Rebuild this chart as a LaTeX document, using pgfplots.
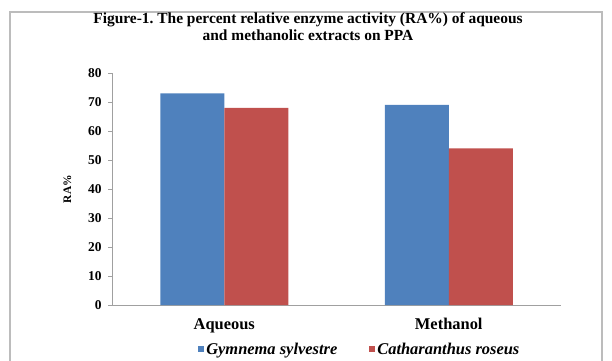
\documentclass[border=0pt]{standalone}
\usepackage{pgfplots}
\pgfplotsset{compat=1.18}
\usepackage{fontspec}
\setmainfont{Liberation Serif}
\definecolor{exblue}{HTML}{4F81BD}
\definecolor{exred}{HTML}{C0504D}
\definecolor{axgray}{HTML}{A0A0A0}
\begin{document}
\begin{tikzpicture}[x=1bp,y=1bp]
\path[use as bounding box] (0,0) rectangle (612,360);
\draw[axgray!70, line width=1.2bp] (10,-5) -- (10,348) -- (602,348) -- (602,-5);
\node[font=\bfseries\fontsize{15.5}{17}\selectfont, align=center] at (308,333.5) {Figure-1.\ The percent relative enzyme activity (RA\%) of aqueous\\and methanolic extracts on PPA};
\begin{axis}[
  at={(112bp,55bp)}, anchor=south west,
  scale only axis, width=449bp, height=232bp,
  ymin=0, ymax=80, ytick={0,10,...,80},
  xmin=-0.5, xmax=1.5,
  xtick={0,1}, xticklabels={Aqueous,Methanol},
  extra x ticks={-0.5,0.5,1.5}, extra x tick labels={},
  extra x tick style={tick style={axgray}},
  x tick label style={font=\bfseries\fontsize{16.5}{18}\selectfont, yshift=-6bp},
  major x tick style={draw=none},
  y tick label style={font=\bfseries\fontsize{13.5}{14}\selectfont, xshift=-3bp},
  /pgf/number format/assume math mode=true,
  ylabel={\bfseries RA\%}, ylabel style={font=\fontsize{11.5}{12}\selectfont, yshift=10bp},
  axis x line*=bottom, axis y line*=left,
  axis line style={axgray},
  tick style={axgray},
  major tick length=4bp,
  tick align=outside,
  ybar=0pt, bar width=64bp,
  legend style={at={(0.552,-0.19)}, anchor=center, draw=none, fill=none, legend columns=2,
    font=\bfseries\itshape\fontsize{16.5}{18}\selectfont,
    /tikz/every even column/.append style={column sep=30bp}},
  legend image code/.code={\fill[#1] (0bp,-3bp) rectangle (6bp,3bp);},
]
\addplot[fill=exblue, draw=none] coordinates {(0,73) (1,69)};
\addplot[fill=exred, draw=none] coordinates {(0,68) (1,54)};
\legend{Gymnema sylvestre, Catharanthus roseus}
\end{axis}
\end{tikzpicture}
\end{document}
